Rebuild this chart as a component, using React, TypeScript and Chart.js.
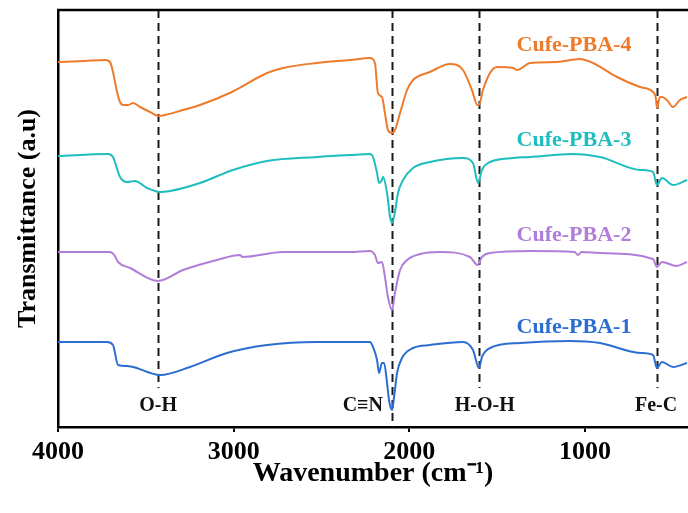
import React, { useEffect, useRef } from "react";
import { Chart, registerables } from "chart.js";

Chart.register(...registerables);

// ---------- data ----------
const seriesNames = ["Cufe-PBA-4", "Cufe-PBA-3", "Cufe-PBA-2", "Cufe-PBA-1"];
const seriesColors = ["#EE7B2C", "#1FBDBD", "#B07DD8", "#2C6DD2"];

const wnPBA4 = [4000, 3852, 3732, 3704, 3687, 3664, 3647, 3630, 3600, 3573, 3533, 3476, 3425, 3391, 3288, 3192, 3010, 2810, 2719, 2526, 2338, 2224, 2196, 2179, 2156, 2139, 2122, 2099, 2082, 2053, 2013, 1979, 1883, 1769, 1695, 1644, 1612, 1604, 1581, 1541, 1501, 1410, 1387, 1313, 1160, 1029, 955, 818, 687, 613, 597, 591, 574, 562, 534, 499, 460, 420];
const tPBA4 = [365, 366, 367, 365, 355, 335, 325, 322, 322, 324, 320, 315, 311, 312, 317, 322, 335, 354, 359, 364, 367, 369, 364, 334, 330, 314, 297, 294, 297, 314, 337, 347, 355, 363, 357, 337, 322, 322, 337, 354, 360, 359, 357, 364, 365, 368, 364, 350, 340, 335, 329, 319, 330, 330, 327, 320, 327, 330];

const wnPBA3 = [4000, 3715, 3687, 3647, 3607, 3562, 3493, 3419, 3362, 3192, 3004, 2810, 2526, 2338, 2224, 2207, 2184, 2173, 2156, 2150, 2127, 2110, 2099, 2082, 2065, 2036, 1979, 1883, 1695, 1638, 1609, 1587, 1541, 1410, 1313, 1069, 915, 687, 613, 591, 562, 499, 420];
const tPBA3 = [271, 273, 270, 250, 245, 246, 239, 235, 236, 244, 257, 266, 270, 272, 273, 270, 254, 244, 247, 250, 234, 210, 204, 215, 234, 247, 259, 265, 269, 264, 244, 257, 265, 269, 270, 273, 270, 257, 255, 242, 249, 242, 247];

const wnPBA2 = [4000, 3704, 3680, 3658, 3590, 3431, 3288, 3095, 2964, 2950, 2719, 2338, 2224, 2196, 2179, 2156, 2139, 2122, 2099, 2082, 2053, 2013, 1939, 1826, 1655, 1612, 1587, 1541, 1313, 1060, 1040, 1020, 915, 613, 591, 562, 480, 420];
const tPBA2 = [175, 175, 172, 165, 159, 146, 157, 167, 172, 170, 175, 175, 176, 172, 164, 165, 150, 130, 117, 134, 157, 167, 173, 175, 170, 162, 170, 174, 176, 175, 172, 175, 174, 168, 160, 165, 161, 165];

const wnPBA1 = [4000, 3721, 3687, 3658, 3610, 3573, 3419, 3249, 3038, 2810, 2526, 2224, 2207, 2184, 2173, 2156, 2144, 2127, 2116, 2099, 2087, 2070, 2042, 1979, 1883, 1695, 1638, 1604, 1587, 1541, 1370, 1086, 915, 687, 613, 591, 562, 499, 420];
const tPBA1 = [85, 85, 82, 62, 61, 60, 52, 60, 74, 82, 85, 85, 80, 67, 54, 64, 64, 44, 27, 17, 30, 54, 69, 79, 82, 85, 77, 59, 70, 79, 84, 86, 84, 74, 72, 59, 65, 60, 64];

const seriesWn = [wnPBA4, wnPBA3, wnPBA2, wnPBA1];
const seriesT = [tPBA4, tPBA3, tPBA2, tPBA1];

const peakWavenumbers = [3430, 2100, 1605, 590];
const peakNames = ["O-H", "C\u2261N", "H-O-H", "Fe-C"];

const xTickValues = [4000, 3000, 2000, 1000];
const xMin = 414;
const xMax = 4000;
const yMin = 0;
const yMax = 417;

const FONT = '"Times New Roman", "Liberation Serif", serif';

const peakPlugin = {
  id: "peakPlugin",
  beforeDatasetsDraw(chart: any) {
    const { ctx, chartArea, scales } = chart;
    const x = scales.x;
    ctx.save();
    ctx.setLineDash([8, 5]);
    ctx.lineWidth = 2;
    ctx.strokeStyle = "#1a1a1a";
    peakWavenumbers.forEach((wn, i) => {
      const px = Math.round(x.getPixelForValue(wn)) + 0.5;
      const bottom = i === 1 ? chartArea.bottom : chartArea.bottom - 39;
      ctx.beginPath();
      ctx.moveTo(px, chartArea.top);
      ctx.lineTo(px, bottom);
      ctx.stroke();
    });
    ctx.restore();
  },
  afterDatasetsDraw(chart: any) {
    const { ctx, chartArea, scales } = chart;
    const x = scales.x;
    const y = scales.y;
    ctx.save();
    // top border
    ctx.strokeStyle = "#000";
    ctx.lineWidth = 2.5;
    ctx.beginPath();
    ctx.moveTo(chartArea.left - 1, chartArea.top);
    ctx.lineTo(chartArea.right, chartArea.top);
    ctx.stroke();

    // peak labels
    const dx = [0, -29, 6, -1];
    ctx.font = `bold 20px ${FONT}`;
    ctx.fillStyle = "#111";
    ctx.textAlign = "center";
    ctx.textBaseline = "middle";
    peakNames.forEach((name, i) => {
      const px = x.getPixelForValue(peakWavenumbers[i]) + dx[i];
      ctx.fillText(name, px, chartArea.bottom - 21);
    });

    // series labels
    const labelWn = 1063;
    const labelT = [382, 287, 192, 100];
    ctx.font = `bold 22px ${FONT}`;
    seriesNames.forEach((name, i) => {
      ctx.fillStyle = seriesColors[i];
      ctx.fillText(name, x.getPixelForValue(labelWn), y.getPixelForValue(labelT[i]));
    });
    ctx.restore();
  },
};

export default function App() {
  const canvasRef = useRef<HTMLCanvasElement | null>(null);

  useEffect(() => {
    document.body.style.margin = "0";
    const canvas = canvasRef.current;
    if (!canvas) return;
    const chart = new Chart(canvas, {
      type: "line",
      data: {
        datasets: seriesNames.map((name, i) => ({
          label: name,
          data: seriesWn[i].map((wn, j) => ({ x: wn, y: seriesT[i][j] })),
          borderColor: seriesColors[i],
          backgroundColor: seriesColors[i],
          borderWidth: 2,
          pointRadius: 0,
          cubicInterpolationMode: "monotone" as const,
          fill: false,
        })),
      },
      options: {
        responsive: false,
        animation: false,
        layout: { padding: { top: 10, right: 0, bottom: 0, left: 0 } },
        plugins: {
          legend: { display: false },
          tooltip: { enabled: false },
        },
        scales: {
          x: {
            type: "linear",
            reverse: true,
            min: xMin,
            max: xMax,
            afterBuildTicks: (scale: any) => {
              scale.ticks = xTickValues.map((v) => ({ value: v }));
            },
            afterFit: (scale: any) => {
              scale.height = 86;
            },
            grid: {
              display: true,
              drawOnChartArea: false,
              drawTicks: true,
              tickLength: 5,
              color: "#000",
              lineWidth: 2,
            },
            border: { display: true, color: "#000", width: 2.5 },
            ticks: {
              color: "#000",
              padding: 5,
              maxRotation: 0,
              callback: (v: any) => String(v),
              font: { family: FONT, size: 26, weight: "bold" },
            },
            title: {
              display: true,
              text: "Wavenumber (cm\u207B\u00B9)",
              color: "#000",
              font: { family: FONT, size: 28, weight: "bold" },
              padding: { top: 0, bottom: 22 },
            },
          },
          y: {
            type: "linear",
            min: yMin,
            max: yMax,
            afterFit: (scale: any) => {
              scale.width = 58;
            },
            grid: { display: false, drawTicks: false },
            border: { display: true, color: "#000", width: 2.5 },
            ticks: { display: false },
            title: {
              display: true,
              text: "Transmittance (a.u)",
              color: "#000",
              font: { family: FONT, size: 26, weight: "bold" },
              padding: { top: 13, bottom: 0 },
            },
          },
        },
      },
      plugins: [peakPlugin],
    });
    return () => chart.destroy();
  }, []);

  return (
    <div style={{ position: "absolute", left: 0, top: 0, width: 688, height: 513 }}>
      <canvas ref={canvasRef} width={688} height={513} />
    </div>
  );
}
